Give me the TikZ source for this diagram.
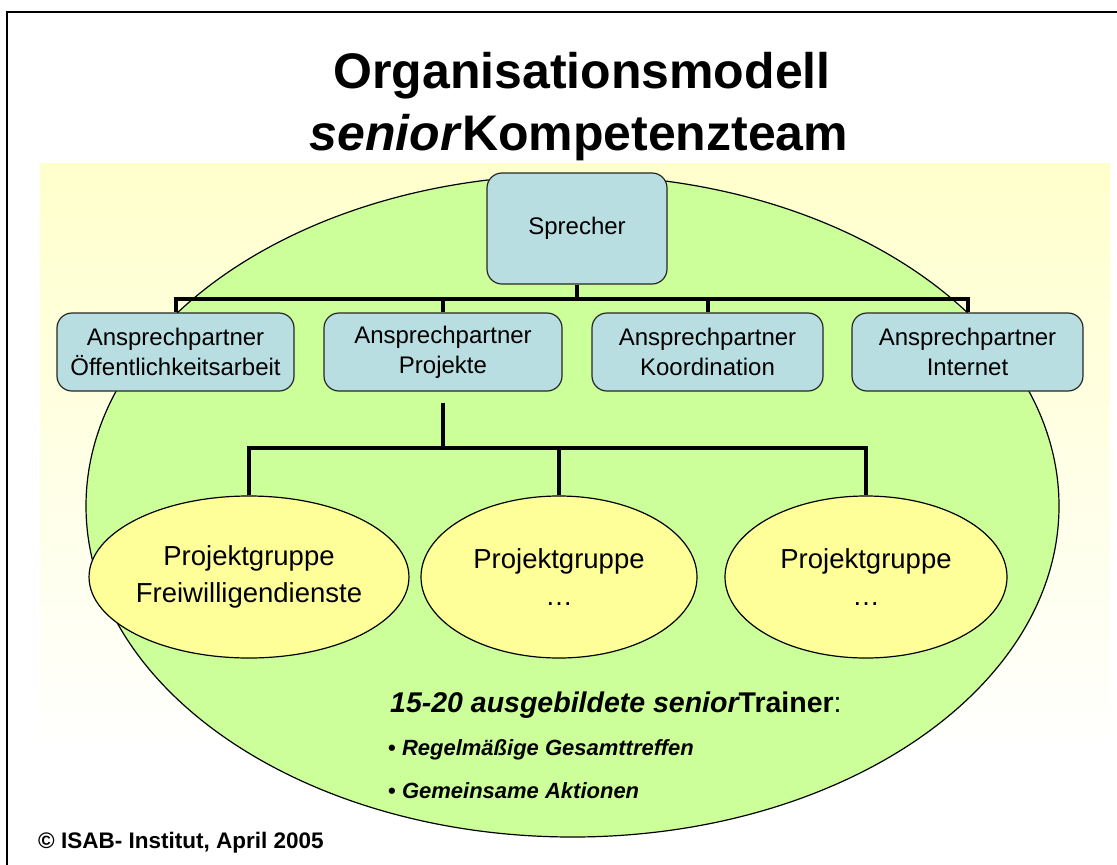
\documentclass[tikz,border=0pt]{standalone}
\usepackage{fontspec}
\setmainfont{Liberation Sans}
\usetikzlibrary{shapes.geometric}
\definecolor{partnerblue}{RGB}{185,222,226}
\definecolor{teamgreen}{RGB}{204,255,153}
\definecolor{groupyellow}{RGB}{255,255,153}
\definecolor{bgyellow}{RGB}{255,255,204}
\tikzset{
    orgchart/.style={
        pbox/.append style={align=center,draw=black!85,line width=1.2pt,rounded corners=15pt,fill=partnerblue,minimum height=78pt,inner sep=0pt,font=\fontsize{24}{30}\selectfont},
        pgroup/.append style={align=center,draw,line width=1.2pt,ellipse,fill=groupyellow,minimum height=162pt,inner sep=0pt,font=\fontsize{27.5}{37}\selectfont},
        team/.append style={draw,line width=1.2pt,ellipse,fill=teamgreen,minimum width=973pt,minimum height=662pt,inner sep=0pt},
        headline/.append style={anchor=base,inner sep=0pt,font=\fontsize{50}{60}\selectfont\bfseries},
        note/.append style={anchor=base west,inner sep=0pt},
        bus/.append style={draw,line width=4pt}
    }
}

\begin{document}
\begin{tikzpicture}[orgchart,x=1pt,y=-1pt]
    \useasboundingbox (0,0) rectangle (1117,865);
    \draw[line width=2pt] (7,865) -- (7,12) -- (1117,12);
    \shade[top color=bgyellow,bottom color=white!97!bgyellow] (40,163) rectangle (1110,745);
    \node[headline] (t1) at (582,88) {Organisationsmodell};
    \node[headline] (t2) at (579,150) {\textit{senior}Kompetenzteam};
    \node[team] (team) at (572.5,506) {};
    % leitung
    \node[pbox,minimum width=180pt,minimum height=111pt] (spr) at (577,228.5) {Sprecher};
    \node[pbox,minimum width=237pt] (aoe) at (175.5,352) {Ansprechpartner\\Öffentlichkeitsarbeit};
    \node[pbox,minimum width=238pt] (apr) at (443,352) {Ansprechpartner\\Projekte};
    \node[pbox,minimum width=231pt] (ako) at (707.5,352) {Ansprechpartner\\Koordination};
    \node[pbox,minimum width=231pt] (ain) at (967.5,352) {Ansprechpartner\\Internet};
    \coordinate (top) at (577,299);
    \draw[bus] (spr.south) -- (top);
    \draw[bus] (aoe.north) |- (top) -| (ain.north);
    \draw[bus] (apr.north) -- (apr.north |- top);
    \draw[bus] (ako.north) -- (ako.north |- top);
    % projektgruppen
    \node[pgroup,minimum width=272pt] (pg1) at (249,577) {Projektgruppe\\Freiwilligendienste};
    \node[pgroup,minimum width=276pt] (pg2) at (559,577) {Projektgruppe\\…};
    \node[pgroup,minimum width=282pt] (pg3) at (866,577) {Projektgruppe\\…};
    \coordinate (mid) at (441,448);
    \draw[bus] ([yshift=-11pt]apr.south) -- (apr.south |- mid);
    \draw[bus] (pg1.north) |- (mid) -| (pg3.north);
    \draw[bus] (pg2.north) -- (pg2.north |- mid);
    % trainer
    \node[note,font=\fontsize{28.5}{34}\selectfont] (tr) at (390,712) {\bfseries\itshape 15-20 ausgebildete senior\upshape Trainer\mdseries:};
    \node[note,font=\fontsize{22}{26}\selectfont\bfseries] (b1) at (388,755) {\textbullet\ \textit{Regelmäßige Gesamttreffen}};
    \node[note,font=\fontsize{22}{26}\selectfont\bfseries] (b2) at (388,798) {\textbullet\ \textit{Gemeinsame Aktionen}};
    \node[note,font=\fontsize{22.5}{27}\selectfont\bfseries] (copy) at (38,848) {© ISAB- Institut, April 2005};
\end{tikzpicture}
\end{document}
